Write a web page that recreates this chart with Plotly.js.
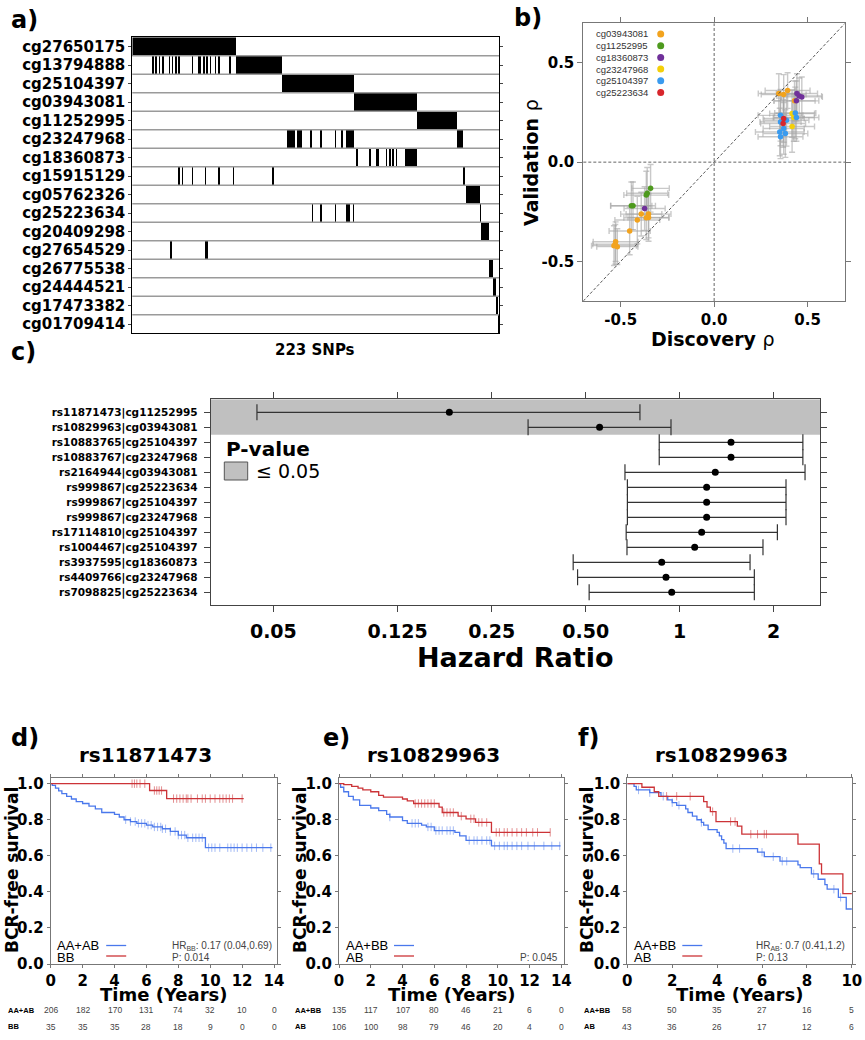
<!DOCTYPE html>
<html><head><meta charset="utf-8">
<script src="https://cdn.plot.ly/plotly-3.0.1.min.js"></script>
<style>html,body{margin:0;padding:0;background:#fff}#chart{width:865px;height:1040px}</style>
</head><body><div id="chart"></div>
<script>
// ---------------- Panel a: probe x SNP association map ----------------
const probes = ['cg27650175','cg13794888','cg25104397','cg03943081','cg11252995','cg23247968','cg18360873','cg15915129','cg05762326','cg25223634','cg20409298','cg27654529','cg26775538','cg24444521','cg17473382','cg01709414'];
const snpCount = 223;
const snpTitle = '223 SNPs';
// black SNP index ranges [start,end] per probe
const snpBlocks = [
  [[0,62]],
  [[12,12],[14,14],[16,16],[18,18],[22,22],[24,24],[26,26],[28,28],[36,36],[40,41],[43,43],[45,45],[47,47],[50,50],[52,52],[59,59],[63,90]],
  [[91,134]],
  [[135,172]],
  [[173,196]],
  [[94,94],[95,98],[100,102],[108,108],[114,114],[123,123],[127,127],[130,134],[197,200]],
  [[136,136],[144,144],[148,149],[154,154],[156,156],[158,158],[160,160],[166,172]],
  [[28,28],[30,30],[36,36],[44,44],[52,52],[61,61],[85,85],[201,201]],
  [[203,210]],
  [[109,109],[114,114],[123,123],[130,131],[134,134],[211,211]],
  [[212,216]],
  [[23,23],[44,45]],
  [[217,218]],
  [[219,220]],
  [[221,221]],
  [[222,222]]
];

// ---------------- Panel b: discovery vs validation rho ----------------
const bProbes = ['cg03943081','cg11252995','cg18360873','cg23247968','cg25104397','cg25223634'];
const bColors = ['#F2A31E','#4E9A1E','#70309A','#F4CF0A','#3A9BEF','#D8262C'];
const bDisc = [
  [0.346,0.372,0.393,0.430,-0.351,-0.390,-0.411,-0.351,-0.363,-0.452,-0.527,-0.536,-0.518,-0.529],
  [-0.340,-0.358,-0.363,-0.434,-0.443],
  [0.443,0.455,0.469,0.440,-0.372],
  [0.417,0.426,0.417],
  [0.434,0.440,0.355,0.355,0.387,0.351,0.355,0.381,0.372],
  [0.369,0.372]
];
const bValid = [
  [0.346,0.341,0.361,0.309,-0.262,-0.262,-0.292,-0.279,-0.280,-0.347,-0.401,-0.421,-0.426,-0.414],
  [-0.132,-0.157,-0.166,-0.220,-0.220],
  [0.346,0.334,0.329,0.309,-0.234],
  [0.245,0.225,0.180],
  [0.248,0.225,0.236,0.203,0.211,0.152,0.128,0.144,0.170],
  [0.195,0.220]
];
const bDiscErr = [
  [0.11,0.12,0.12,0.11,0.12,0.11,0.12,0.11,0.12,0.11,0.12,0.12,0.11,0.12],
  [0.10,0.11,0.12,0.12,0.11],
  [0.11,0.12,0.11,0.12,0.11],
  [0.12,0.11,0.12],
  [0.11,0.12,0.12,0.11,0.12,0.13,0.12,0.12,0.11],
  [0.12,0.11]
];
const bValidErr = [
  [0.10,0.10,0.09,0.10,0.12,0.11,0.12,0.12,0.11,0.12,0.10,0.10,0.09,0.10],
  [0.12,0.13,0.12,0.12,0.12],
  [0.10,0.09,0.10,0.10,0.11],
  [0.12,0.12,0.13],
  [0.13,0.12,0.13,0.12,0.13,0.12,0.11,0.12,0.13],
  [0.12,0.12]
];

// ---------------- Panel c: forest plot ----------------
const fLabels = ['rs11871473|cg11252995','rs10829963|cg03943081','rs10883765|cg25104397','rs10883767|cg23247968','rs2164944|cg03943081','rs999867|cg25223634','rs999867|cg25104397','rs999867|cg23247968','rs17114810|cg25104397','rs1004467|cg25104397','rs3937595|cg18360873','rs4409766|cg23247968','rs7098825|cg25223634'];
const fHR    = [0.183,0.554,1.46,1.46,1.30,1.22,1.22,1.22,1.176,1.117,0.876,0.904,0.943];
const fLower = [0.0443,0.327,0.86,0.86,0.668,0.68,0.68,0.68,0.674,0.678,0.456,0.471,0.513];
const fUpper = [0.746,0.938,2.48,2.48,2.52,2.19,2.19,2.19,2.055,1.848,1.68,1.734,1.734];
const fSignificant = 2; // first rows with P <= 0.05
const fTickVals = [0.05,0.125,0.25,0.5,1,2];
const fTickText = ['0.05','0.125','0.25','0.50','1','2'];

// ---------------- Panels d, e, f: Kaplan-Meier ----------------
const kmPanels = [
  {letter:'d)', title:'rs11871473', xmax:14, groups:['AA+AB','BB'],
   t:[[0,0.1,0.3,0.5,0.7,1.0,1.3,1.6,2.0,2.4,2.8,3.2,4.0,4.3,4.6,5.0,5.4,6.0,6.4,7.0,7.5,8.0,8.5,9.7],
      [0,6.2,7.27]],
   s:[[1,0.99,0.975,0.96,0.945,0.93,0.915,0.90,0.89,0.875,0.86,0.84,0.83,0.815,0.80,0.79,0.78,0.77,0.76,0.75,0.735,0.715,0.70,0.645],
      [1,0.962,0.917]],
   end:[13.9,12.1],
   cens:[[4.7,5.0,5.3,5.5,5.7,5.9,6.1,6.3,6.5,6.7,6.9,7.0,7.2,7.5,7.8,8.0,8.2,8.4,8.6,8.9,9.1,9.3,9.5,9.9,10.1,10.3,10.6,11.1,11.3,11.5,11.7,12.0,12.3,12.6,12.9,13.3,13.8],
         [5.1,5.25,5.4,5.6,5.9,6.5,6.65,6.8,6.95,7.7,7.9,8.1,8.3,8.5,8.6,8.8,9.2,9.5,9.7,10.0,10.3,10.6,10.8,11.0,11.2,11.4,12.0]],
   hr:'HR<sub>BB</sub>: 0.17 (0.04,0.69)', p:'P: 0.014',
   riskT:[0,2,4,6,8,10,12,14], risk:[[206,182,170,131,74,32,10,0],[35,35,35,28,18,9,0,0]]},
  {letter:'e)', title:'rs10829963', xmax:14, groups:['AA+BB','AB'],
   t:[[0,0.1,0.3,0.6,0.9,1.3,2.0,2.5,3.0,3.2,4.0,4.3,5.2,5.5,6.0,7.3,7.6,8.0,9.6],
      [0,0.3,0.8,1.2,1.5,2.0,2.5,2.8,4.0,4.3,4.7,6.3,6.5,7.5,8.0,8.6,9.6]],
   s:[[1,0.98,0.955,0.93,0.91,0.88,0.865,0.85,0.83,0.815,0.795,0.78,0.77,0.76,0.74,0.73,0.71,0.685,0.655],
      [1,0.995,0.985,0.975,0.965,0.955,0.935,0.925,0.915,0.905,0.89,0.87,0.84,0.82,0.805,0.785,0.73]],
   end:[13.95,13.3],
   cens:[[3.2,4.6,4.8,5.0,5.6,5.8,6.1,6.3,6.5,6.8,7.0,7.2,8.2,8.5,8.7,9.0,9.3,9.5,9.8,10.1,10.4,10.6,10.9,11.2,11.5,11.9,12.3,12.9,13.4,13.9],
         [4.8,5.0,5.2,5.4,5.6,5.8,6.0,6.6,6.8,7.0,7.2,7.7,8.3,8.5,8.8,9.0,9.3,9.9,10.1,10.4,10.6,10.9,11.2,11.5,11.8,12.2,12.5,13.3]],
   hr:'', p:'P: 0.045',
   riskT:[0,2,4,6,8,10,12,14], risk:[[135,117,107,80,46,21,6,0],[106,100,98,79,46,20,4,0]]},
  {letter:'f)', title:'rs10829963', xmax:10, groups:['AA+BB','AB'],
   t:[[0,0.3,0.4,1.0,1.5,1.8,2.0,2.2,2.6,2.7,2.9,3.1,3.3,3.4,3.6,4.0,4.1,4.2,4.3,4.4,5.8,6.1,6.8,7.6,7.7,8.2,8.5,8.8,8.9,9.4,9.75],
      [0,0.65,1.2,1.4,3.4,3.55,3.7,3.95,4.9,5.1,7.6,8.55,8.65,9.6]],
   s:[[1,0.985,0.965,0.95,0.93,0.91,0.895,0.88,0.86,0.84,0.82,0.80,0.785,0.77,0.745,0.73,0.71,0.69,0.67,0.64,0.62,0.595,0.57,0.55,0.535,0.50,0.47,0.44,0.415,0.37,0.305],
      [1,0.98,0.955,0.93,0.90,0.87,0.845,0.79,0.765,0.72,0.665,0.555,0.50,0.39]],
   end:[10,10],
   cens:[[0.5,1.0,1.6,2.0,2.3,3.3,4.7,5.0,6.0,6.5,6.9,7.1,8.3,9.2,9.5],
         [1.75,2.2,2.8,3.8,4.6,4.8,5.5,5.8,6.1,6.2]],
   hr:'HR<sub>AB</sub>: 0.7 (0.41,1.2)', p:'P: 0.13',
   riskT:[0,2,4,6,8,10], risk:[[58,50,35,27,16,5],[43,36,26,17,12,6]]}
];
const kmColors = ['#4A78EC','#CC3337'];
const kmCensColors = ['rgba(74,120,236,0.5)','rgba(204,51,55,0.55)'];

// ---------------- helpers (positions in px -> paper) ----------------
const W = 865, H = 1040;
const px = x => x / W, py = y => 1 - y / H;
const dx = (a, b) => [a / W, b / W];
const dy = (top, bottom) => [1 - bottom / H, 1 - top / H];
const FB = (size, color) => ({family:'DejaVu Sans', size:size, color:color || '#000', weight:'bold'});
const FR = (size, color, fam) => ({family:fam || 'Liberation Sans', size:size, color:color || '#000'});
function A(text, x, y, font, o) {
  return Object.assign({text:text, x:px(x), y:py(y), xref:'paper', yref:'paper', showarrow:false,
    xanchor:'center', yanchor:'middle', font:font}, o || {});
}

const traces = [], shapes = [], annotations = [];

// ---- Panel a
const zA = snpBlocks.map(bl => { const row = new Array(snpCount).fill(0); bl.forEach(([s,e]) => { for (let i = s; i <= e; i++) row[i] = 1; }); return row; });
traces.push({type:'heatmap', z:zA, x:[...Array(snpCount).keys()], y:probes, xaxis:'x', yaxis:'y',
  colorscale:[[0,'#ffffff'],[1,'#000000']], zmin:0, zmax:1, showscale:false, hoverinfo:'skip', zsmooth:false});
for (let i = 0; i < probes.length - 1; i++) {
  shapes.push({type:'line', xref:'x domain', yref:'y', x0:0, x1:1, y0:i+0.5, y1:i+0.5, line:{color:'#9a9a9a', width:1.6}});
}

// ---- Panel b
bProbes.forEach((p, k) => {
  traces.push({type:'scatter', mode:'markers', x:bDisc[k], y:bValid[k], xaxis:'x2', yaxis:'y2', showlegend:false, hoverinfo:'skip',
    marker:{size:1, color:'rgba(0,0,0,0)'},
    error_x:{type:'data', array:bDiscErr[k], color:'rgba(165,165,165,0.6)', thickness:1.4, width:3},
    error_y:{type:'data', array:bValidErr[k], color:'rgba(165,165,165,0.6)', thickness:1.4, width:3}});
});
bProbes.forEach((p, k) => {
  traces.push({type:'scatter', mode:'markers', name:p, x:bDisc[k], y:bValid[k], xaxis:'x2', yaxis:'y2', showlegend:false,
    marker:{size:5.5, color:bColors[k]}});
  annotations.push(A(p, 594, 34 + 11.7*k, FR(9.5,'#333'), {xanchor:'left'}));
  shapes.push({type:'circle', xref:'paper', yref:'paper', xsizemode:'pixel', ysizemode:'pixel',
    xanchor:px(660.7), yanchor:py(34 + 11.7*k), x0:-3.5, x1:3.5, y0:-3.5, y1:3.5, fillcolor:bColors[k], line:{width:0}});
});
shapes.push({type:'line', xref:'x2', yref:'y2', x0:-0.7, y0:-0.7, x1:0.7, y1:0.7, line:{color:'#444', width:0.9, dash:'3px,2px'}});
shapes.push({type:'line', xref:'x2', yref:'y2 domain', x0:0, x1:0, y0:0, y1:1, line:{color:'#555', width:0.9, dash:'3px,2px'}});
shapes.push({type:'line', xref:'x2 domain', yref:'y2', x0:0, x1:1, y0:0, y1:0, line:{color:'#555', width:0.9, dash:'3px,2px'}});

// ---- Panel c
const fRows = fLabels.map((_, i) => i + 1);
traces.push({type:'scatter', mode:'markers', x:fHR, y:fRows, xaxis:'x3', yaxis:'y3', showlegend:false,
  marker:{size:7, color:'#000'},
  error_x:{type:'data', symmetric:false, array:fUpper.map((u,i)=>u-fHR[i]), arrayminus:fHR.map((h,i)=>h-fLower[i]), color:'#333', thickness:1.2, width:8}});
shapes.push({type:'rect', xref:'x3 domain', yref:'y3', x0:0, x1:1, y0:0.133, y1:fSignificant + 0.5, fillcolor:'#c0c0c0', line:{width:0}, layer:'below'});
shapes.push({type:'line', xref:'x3', yref:'y3 domain', x0:0, x1:0, y0:0, y1:1, line:{color:'#444', width:1, dash:'4px,3px'}});
// P-value key
annotations.push(A('P-value', 224, 449.3, FB(20), {xanchor:'left'}));
shapes.push({type:'rect', xref:'paper', yref:'paper', x0:px(224.3), x1:px(247.7), y0:py(480), y1:py(462), fillcolor:'#c0c0c0', line:{color:'#555', width:1}});
annotations.push(A('≤ 0.05', 254, 471, FR(19,'#000','DejaVu Sans'), {xanchor:'left'}));
annotations.push(A('Hazard Ratio', 515, 657, FB(27)));

// ---- Panels d, e, f
const kmX = [[50.7,276.7],[339,564],[627.3,852.3]];
const kmTitleX = [145.7, 433.7, 721.2];
const kmLetterX = [25, 336, 588];
const kmYTitleX = [12, 300, 587];
const kmLabelX = [6, 293, 582];
function survAt(ts, ss, t) { let v = ss[0]; for (let i = 0; i < ts.length; i++) { if (ts[i] <= t) v = ss[i]; } return v; }
kmPanels.forEach((P, k) => {
  const xa = 'x' + (k + 4), ya = 'y' + (k + 4);
  for (let g = 0; g < 2; g++) {
    const ts = P.t[g].concat([P.end[g]]), ss = P.s[g].concat([P.s[g][P.s[g].length-1]]);
    traces.push({type:'scatter', mode:'lines', x:ts, y:ss, xaxis:xa, yaxis:ya, showlegend:false,
      line:{color:kmColors[g], width:1.3, shape:'hv'}});
    traces.push({type:'scatter', mode:'markers', x:P.cens[g], y:P.cens[g].map(t => survAt(P.t[g], P.s[g], t)), xaxis:xa, yaxis:ya, showlegend:false,
      marker:{symbol:'line-ns-open', size:6, color:kmCensColors[g], line:{width:1, color:kmCensColors[g]}}});
  }
  const x0 = kmX[k][0];
  annotations.push(A(P.letter, kmLetterX[k], 738, FB(24)));
  annotations.push(A(P.title, kmTitleX[k], 755, FB(20)));
  annotations.push(A('Time (Years)', (kmX[k][0]+kmX[k][1])/2, 994, FB(18)));
  annotations.push(A('BCR-free survival', kmYTitleX[k], 870, FB(17), {textangle:-90}));
  // legend
  annotations.push(A(P.groups[0], x0 + 4.5, 945, FR(13), {xanchor:'left'}));
  annotations.push(A(P.groups[1], x0 + 4.5, 957, FR(13), {xanchor:'left'}));
  const lx0 = x0 + (k === 0 ? 55.5 : 55), lx1 = lx0 + 20;
  shapes.push({type:'line', xref:'paper', yref:'paper', x0:px(lx0), x1:px(lx1), y0:py(945.5), y1:py(945.5), line:{color:kmColors[0], width:1.3}});
  shapes.push({type:'line', xref:'paper', yref:'paper', x0:px(lx0), x1:px(lx1), y0:py(956), y1:py(956), line:{color:kmColors[1], width:1.3}});
  if (P.hr) {
    annotations.push(A(P.hr, x0 + (k === 0 ? 119.5 : 126.5), 946, FR(10,'#444'), {xanchor:'left'}));
    annotations.push(A(P.p, x0 + (k === 0 ? 119.5 : 126.5), 957.5, FR(10,'#444'), {xanchor:'left'}));
  } else {
    annotations.push(A(P.p, kmX[k][1] - 4, 957.5, FR(10,'#444'), {xanchor:'right'}));
  }
  // numbers at risk
  for (let g = 0; g < 2; g++) {
    const yy = g === 0 ? 1010 : 1026.5;
    annotations.push(A(P.groups[g], kmLabelX[k], yy, {family:'Liberation Sans', size:7.5, color:'#000', weight:'bold'}, {xanchor:'left'}));
    P.riskT.forEach((t, i) => {
      annotations.push({text:String(P.risk[g][i]), x:t, y:py(yy), xref:xa, yref:'paper', showarrow:false,
        xanchor:'center', yanchor:'middle', font:FR(8.5,'#444')});
    });
  }
});

// panel letters a-c and other axis titles
annotations.push(A('a)', 24, 20, FB(24)));
annotations.push(A('b)', 528, 18, FB(24)));
annotations.push(A('c)', 23, 352, FB(24)));
annotations.push(A(snpTitle, 315, 350, FB(15)));
annotations.push(A('Discovery <span style="font-weight:normal">ρ</span>', 713, 339, FB(19)));
annotations.push(A('Validation <span style="font-weight:normal">ρ</span>', 531, 163, FB(19), {textangle:-90}));

const gridOff = {showgrid:false, zeroline:false};
const layout = {
  width:W, height:H, margin:{l:0, r:0, t:0, b:0}, paper_bgcolor:'#fff', plot_bgcolor:'rgba(0,0,0,0)',
  showlegend:false, font:{family:'DejaVu Sans'},
  xaxis:Object.assign({domain:dx(132.3,499), anchor:'y', range:[-0.5, snpCount-0.5], showticklabels:false, ticks:'',
    showline:true, mirror:true, linecolor:'#000', linewidth:1}, gridOff),
  yaxis:Object.assign({domain:dy(37.3,333.3), anchor:'x', autorange:'reversed', type:'category', ticks:'outside', ticklen:3,
    tickcolor:'#444', showline:true, mirror:'ticks', linecolor:'#000', linewidth:1, tickfont:FB(15)}, gridOff),
  xaxis2:Object.assign({domain:dx(583.3,845), anchor:'y2', range:[-0.7,0.7], tickvals:[-0.5,0,0.5], ticktext:['-0.5','0.0','0.5'],
    ticks:'outside', ticklen:5, tickcolor:'#777', showline:true, mirror:'ticks', linecolor:'#777', linewidth:1, tickfont:FB(15)}, gridOff),
  yaxis2:Object.assign({domain:dy(23.3,301), anchor:'x2', range:[-0.7,0.7], tickvals:[-0.5,0,0.5], ticktext:['-0.5','0.0','0.5'],
    ticks:'outside', ticklen:5, tickcolor:'#777', showline:true, mirror:'ticks', linecolor:'#777', linewidth:1, tickfont:FB(15)}, gridOff),
  xaxis3:Object.assign({domain:dx(210.7,820.3), anchor:'y3', type:'log', range:[Math.log10(0.0315), Math.log10(2.82)],
    tickvals:fTickVals, ticktext:fTickText, ticks:'outside', ticklen:6, tickcolor:'#444', showline:true, mirror:'ticks',
    linecolor:'#444', linewidth:1, tickfont:FB(19), ticklabelstandoff:3}, gridOff),
  yaxis3:Object.assign({domain:dy(399.3,605.3), anchor:'x3', range:[13.867,0.133], tickvals:fRows, ticktext:fLabels,
    ticks:'outside', ticklen:6, tickcolor:'#444', showline:true, mirror:'ticks', linecolor:'#444', linewidth:1,
    tickfont:FB(10.5), ticklabelstandoff:4}, gridOff),
  shapes:shapes, annotations:annotations
};
kmPanels.forEach((P, k) => {
  const n = k + 4;
  layout['xaxis' + n] = Object.assign({domain:dx(kmX[k][0], kmX[k][1]), anchor:'y' + n, range:[0, P.xmax * (k === 2 ? 1.002 : 1.012)],
    dtick:2, tick0:0, ticks:'outside', ticklen:3, tickcolor:'#777', showline:true, mirror:'ticks', linecolor:'#777', linewidth:1,
    tickfont:FB(15)}, gridOff);
  layout['yaxis' + n] = Object.assign({domain:dy(777.7, 964.3), anchor:'x' + n, range:[-0.0015, 1.033], dtick:0.2, tick0:0,
    tickformat:'.1f', ticks:'outside', ticklen:3, tickcolor:'#777', showline:true, mirror:'ticks', linecolor:'#777', linewidth:1,
    tickfont:FB(15)}, gridOff);
});

Plotly.newPlot('chart', traces, layout, {staticPlot:true, displayModeBar:false});
</script></body></html>
